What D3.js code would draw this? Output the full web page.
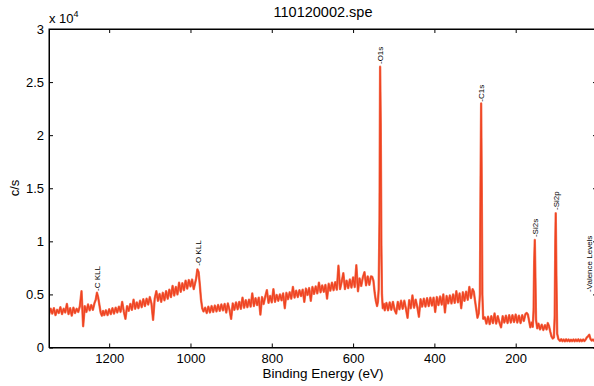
<!DOCTYPE html>
<html><head><meta charset="utf-8">
<script src="https://cdn.jsdelivr.net/npm/d3@7"></script>
<style>
html,body{margin:0;padding:0;background:#fff;}
text{font-family:"Liberation Sans",Arial,Helvetica,sans-serif;fill:#000;}
</style></head>
<body><svg id="c" width="594" height="386"></svg>
<script>
const title = "110120002.spe";
const xLabel = "Binding Energy (eV)";
const yLabel = "c/s";
const xTicks = [1200, 1000, 800, 600, 400, 200, 0];
const yTicks = [0, 5000, 10000, 15000, 20000, 25000, 30000];
const xDomain = [1348, 0];
const yDomain = [0, 30000];

// [binding energy (eV), counts (c/s)]
const spectrum = [
[1348,3100],[1344,3650],[1340,3200],[1336,3700],[1332,3050],[1328,3550],[1324,3250],[1320,3800],
[1316,3150],[1312,3650],[1308,3300],[1304,4100],[1300,3150],[1296,3700],[1292,3000],[1288,3750],
[1284,3250],[1280,3650],[1276,3350],[1272,3900],[1268,5300],[1264,2000],[1260,3900],[1256,3350],
[1252,4050],[1248,3500],[1244,4000],[1240,3550],[1236,4200],[1233,4500],[1230,5160],[1227,4700],
[1224,4000],[1221,3300],[1218,3000],[1215,3450],[1212,3050],
[1208,3500],[1204,3050],[1200,3600],[1196,3150],[1192,3700],[1188,3200],[1184,3750],[1180,3300],
[1176,3850],[1172,3350],[1168,4300],[1164,3400],[1160,2700],[1156,3900],[1152,3450],[1148,4100],
[1144,3550],[1140,4500],[1136,3650],[1132,4250],[1128,3700],[1124,4400],[1120,3800],[1116,4550],
[1112,3900],[1108,4600],[1104,4050],[1100,4750],[1096,4150],[1092,2600],[1088,4600],[1084,5300],
[1080,4400],[1076,5050],[1072,4300],[1068,5150],[1064,4450],[1060,5300],[1056,4600],[1052,5450],
[1048,4750],[1044,5800],[1040,4900],[1036,5700],[1032,5000],[1028,6100],[1024,5250],[1020,6050],
[1016,5400],[1012,6300],[1008,5550],[1004,6350],[1000,5750],[996,6400],[992,5500],[989,6000],
[986,6500],[983,7360],[980,7100],[977,5900],[974,4500],[971,3700],[968,3400],
[964,3750],[960,3250],[956,3850],[952,3300],[948,3900],[944,3350],[940,3950],[936,3400],
[932,4000],[928,3450],[924,4050],[920,3500],[916,4100],[912,3300],[908,4150],[904,3550],
[900,2700],[896,4150],[892,3550],[888,4250],[884,3600],[880,4300],[876,3650],[872,4700],
[868,3750],[864,4450],[860,3800],[856,4500],[852,3850],[848,5100],[844,3900],[840,4650],
[836,4000],[832,4700],[828,3100],[824,4750],[820,4100],[816,4800],[812,5400],[808,4200],
[804,4850],[800,4250],[796,5500],[792,4300],[788,4950],[784,4400],[780,5000],[776,4450],
[772,5100],[768,3700],[764,5150],[760,4550],[756,5200],[752,4600],[748,5700],[744,4700],
[740,5350],[736,4750],[732,5400],[728,4850],[724,5450],[720,4300],[716,5550],[712,4950],
[708,5600],[704,4400],[700,5700],[696,5050],[692,5750],[688,5100],[684,6100],[680,5200],
[676,5850],[672,5250],[668,5900],[664,4600],[660,6000],[656,5350],[652,6100],[648,5400],
[644,6150],[640,5450],[636,7700],[632,5500],[628,6200],[624,7000],[620,5500],[616,6300],
[612,5600],[608,6400],[604,5650],[600,6600],[596,5700],[592,7750],[588,5300],[584,6500],
[580,5800],[576,6600],[572,7100],[568,5850],[564,6700],[560,5900],[556,6700],[553,6650],
[550,6300],[547,5200],[544,4400],[541,3900],[539,4300],[537,5500],[535,12000],[533.5,26440],
[532,21000],[530.5,10000],[529,5000],[527,3700],[524,4100],[522,3500],
[518,4200],[514,3500],[510,4250],[506,3550],[502,4300],[498,3550],[494,3200],[490,4300],
[486,3600],[482,4400],[478,3650],[474,4400],[470,3650],[466,2800],[462,4450],[458,3700],
[454,4900],[450,3750],[446,4500],[442,3800],[438,2900],[434,4550],[430,3850],[426,4600],
[422,3850],[418,4650],[414,3900],[410,4700],[406,3950],[402,4700],[398,3350],[394,4750],
[390,4000],[386,4800],[382,4050],[378,5000],[374,3300],[370,4850],[366,4150],[362,4900],
[358,4150],[354,5000],[350,4200],[346,5300],[342,4250],[338,5100],[334,3700],[330,5200],
[326,4400],[322,5250],[318,4500],[314,5700],[310,4650],[306,5500],[303,5250],[300,4400],
[297,3600],[294,2800],[291,3200],[288,5000],[286.5,15000],[285,22990],[283.5,15000],[282,5000],
[280,2700],[276,2850],[272,2250],[268,2900],[264,2200],[260,2950],[256,2300],[252,3200],
[248,2250],[244,2950],[240,2350],[236,1900],[232,2950],[228,2350],[224,3000],[220,2300],
[216,3050],[212,2350],[208,3050],[204,2400],[200,3100],[196,2350],[192,3000],[188,2300],
[184,3050],[180,2500],[176,3150],[173,3250],[170,3100],[167,2500],[164,1900],[161,2350],
[158,1950],[156,3500],[154.5,8000],[153,10120],[151.5,6500],[150,2600],[147,1800],[144,2250],
[140,1700],[136,2150],[132,1650],[128,2100],[124,1700],[121,2300],[118,2000],[115,1500],
[112,1050],[109,850],[106,950],[104,3000],[102.5,10000],[101.5,12640],[100,7000],[98,1300],
[95,800],[91,620],[88,780],[85,600],[82,750],[79,580],[76,770],[73,600],
[70,760],[67,580],[64,740],[61,600],[58,760],[55,590],[52,750],[49,600],
[46,770],[43,590],[40,740],[37,600],[34,760],[31,610],[28,750],[25,950],
[22,1050],[19,1200],[16,800],[13,650],[10,750],[7,620],[4,760],[1,650]
];

const peakNames = ["C KLL", "O KLL", "O1s", "C1s", "Si2s", "Si2p", "Valence Levels"];
const peakEnergies = [1229, 981, 533.5, 285, 152.5, 101.5, 18.5];
const peakLabelHeights = [5320, 7700, 26700, 23150, 10400, 12950, 5230];

const svg = d3.select("#c");
const M = {left: 49, top: 29, right: 597, bottom: 347.5};
const x = d3.scaleLinear().domain(xDomain).range([M.left, M.right]);
const y = d3.scaleLinear().domain(yDomain).range([M.bottom, M.top]);

svg.append("defs").append("clipPath").attr("id","clip")
  .append("rect").attr("x",M.left).attr("y",M.top)
  .attr("width",M.right-M.left).attr("height",M.bottom-M.top);

const line = d3.line().x(d => x(d[0])).y(d => y(d[1]));
svg.append("path").datum(spectrum)
  .attr("clip-path","url(#clip)")
  .attr("d", line)
  .attr("fill","none")
  .attr("stroke","#f47a5e")
  .attr("stroke-width",2.4)
  .attr("stroke-linejoin","round");
svg.append("path").datum(spectrum)
  .attr("clip-path","url(#clip)")
  .attr("d", line)
  .attr("fill","none")
  .attr("stroke","#ef4321")
  .attr("stroke-width",1.3)
  .attr("stroke-linejoin","round");

// peak labels
const lab = svg.append("g");
peakNames.forEach((n,i) => {
  const px = x(peakEnergies[i]), py = y(peakLabelHeights[i]);
  lab.append("text")
    .attr("transform",`translate(${px},${py}) rotate(-90)`)
    .attr("dy","0.35em")
    .attr("font-size",8)
    .text("-" + n);
});

// axes
const fmtY = d => d3.format("~g")(d/10000);
const gx = svg.append("g").attr("transform",`translate(0,${M.bottom})`)
  .call(d3.axisBottom(x).tickValues(xTicks).tickSizeInner(-4).tickSizeOuter(0).tickPadding(6).tickFormat(d3.format("d")));
const gxt = svg.append("g").attr("transform",`translate(0,${M.top})`)
  .call(d3.axisTop(x).tickValues(xTicks).tickSizeInner(-4).tickSizeOuter(0).tickFormat(""));
const gy = svg.append("g").attr("transform",`translate(${M.left},0)`)
  .call(d3.axisLeft(y).tickValues(yTicks).tickSizeInner(-4).tickSizeOuter(0).tickPadding(5).tickFormat(fmtY));
const gyr = svg.append("g").attr("transform",`translate(${M.right},0)`)
  .call(d3.axisRight(y).tickValues(yTicks).tickSizeInner(-4).tickSizeOuter(0).tickFormat(""));
[gx,gxt,gy,gyr].forEach(g => {
  g.select(".domain").attr("stroke","#000");
  g.selectAll(".tick line").attr("stroke","#000");
  g.selectAll("text").attr("font-size",13).attr("font-family",'"Liberation Sans",Arial,sans-serif').attr("fill","#000");
});
svg.append("rect").attr("x",M.left).attr("y",M.top)
  .attr("width",M.right-M.left).attr("height",M.bottom-M.top)
  .attr("fill","none").attr("stroke","#000").attr("stroke-width",1);

// titles
svg.append("text").attr("x",(M.left+M.right)/2).attr("y",17)
  .attr("text-anchor","middle").attr("font-size",14.5).text(title);
svg.append("text").attr("x",(M.left+M.right)/2).attr("y",378)
  .attr("text-anchor","middle").attr("font-size",13.5).text(xLabel);
svg.append("text").attr("transform",`translate(19,188) rotate(-90)`)
  .attr("text-anchor","middle").attr("font-size",13).text(yLabel);
const ex = svg.append("text").attr("x",M.left).attr("y",23).attr("font-size",13);
ex.append("tspan").text("x 10");
ex.append("tspan").attr("font-size",9).attr("dy",-6).text("4");
</script></body></html>
